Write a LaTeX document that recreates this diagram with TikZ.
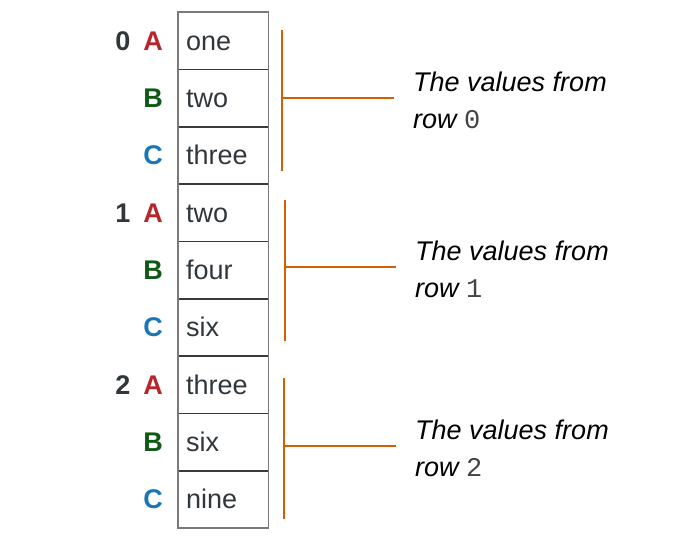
\documentclass[tikz,border=0pt]{standalone}
\usepackage{fontspec}
\setmainfont{Liberation Sans}
\setmonofont{Liberation Mono}
\definecolor{txt}{HTML}{30373C}
\definecolor{cA}{HTML}{B5262B}
\definecolor{cB}{HTML}{0E5A14}
\definecolor{cC}{HTML}{1C76B5}
\definecolor{brk}{HTML}{D35F00}
\definecolor{frame}{HTML}{7A7A7A}
\definecolor{sep}{HTML}{3A3A3A}
\definecolor{mono}{HTML}{444444}
\begin{document}
\begin{tikzpicture}[x=1pt,y=-1pt,
  font=\fontsize{27}{32}\selectfont,
  cell/.style={minimum width=90pt,minimum height=57.33pt,inner sep=0pt},
  celltext/.style={anchor=base west,inner sep=0pt,text=txt},
  letter/.style={anchor=base east,inner sep=0pt,font=\fontsize{27}{32}\selectfont\bfseries},
  digit/.style={anchor=base,inner sep=0pt,text=txt,font=\fontsize{27}{32}\selectfont\bfseries},
  bracket/.style={draw=brk,line width=1.6pt},
  note/.style={anchor=north west,inner sep=0pt,align=left,text=black,
    font=\fontsize{27}{36.5}\selectfont\itshape}]
\useasboundingbox (0,0) rectangle (674,542);
% cells
\foreach \i/\t/\l in {0/one/A,1/two/B,2/three/C,3/two/A,4/four/B,5/six/C,6/three/A,7/six/B,8/nine/C}{
  \node[cell] (c\i) at (223,{12+57.33*(\i+0.5)}) {};
  \node[celltext] (t\i) at ([xshift=-37pt,yshift=-9.5pt]c\i.center) {\t};
  \node[letter,text=c\l] (l\i) at ([xshift=-60pt,yshift=-9.5pt]c\i.center) {\l};
}
\foreach \i in {0,...,7}{
  \draw[sep,line width=1.4pt] (c\i.south west) -- (c\i.south east);
}
\draw[frame,line width=1.4pt] (c0.north west) rectangle (c8.south east);
% row digits
\foreach \g/\r in {0/0,1/3,2/6}{
  \node[digit] (d\g) at ([xshift=-100pt,yshift=-9.5pt]c\r.center) {\g};
}
% brackets
\foreach \g/\x/\top/\bot/\mid/\e/\tx in {0/282/30/171/98/394/413,1/285/200/341/267/396/415,2/284/378/519/446/396/415}{
  \coordinate (bt\g) at (\x,\top);
  \coordinate (bb\g) at (\x,\bot);
  \coordinate (bm\g) at (\x,\mid);
  \coordinate (be\g) at (\e,\mid);
  \draw[bracket] (bt\g) -- (bb\g);
  \draw[bracket] (bm\g) -- (be\g);
  \node[note] (n\g) at (\tx,{\mid-26}) {The values from\\row {\upshape\ttfamily\color{mono}\g}};
}
\end{tikzpicture}
\end{document}
